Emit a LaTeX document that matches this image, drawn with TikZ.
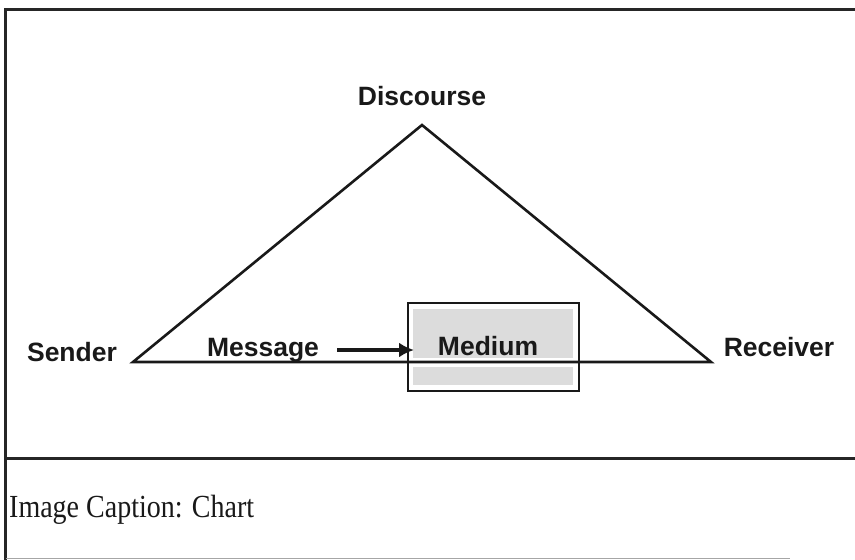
\documentclass[tikz,border=0pt]{standalone}
\usepackage{fontspec}
\setmainfont{Liberation Serif}
\newfontfamily\labelfont{Liberation Sans}
\usetikzlibrary{arrows.meta}
\definecolor{medgray}{HTML}{DCDCDC}
\tikzset{
  lbl/.style={font=\labelfont\bfseries\fontsize{26.5}{30}\selectfont, inner sep=0pt, text=black!90},
  edge/.style={line width=2.6pt, line join=miter, draw=black!90},
  frame/.style={line width=3pt, draw=black!85},
}
\begin{document}
\begin{tikzpicture}[x=1pt,y=-1pt]
\useasboundingbox (0,0) rectangle (855,560);
% frame
\draw[frame] (857,9.5) -- (5.5,9.5) -- (5.5,562);
\draw[frame] (5.5,458) -- (857,458);
\draw[line width=1pt, draw=black!35] (5.5,558) -- (790,558);
% medium box
\node[draw=black!90, line width=2.4pt, fill=white, minimum width=171pt, minimum height=88pt, inner sep=0pt, anchor=north west] (box) at (407,302) {};
\fill[medgray] (413,309) rectangle (573,358);
\fill[medgray] (413,367) rectangle (573,385);
% triangle
\coordinate (apex) at (422,125);
\coordinate (left) at (133,362);
\coordinate (right) at (711,362);
\draw[edge] (left) -- (apex) -- (right) -- cycle;
% labels
\node[lbl] (disc) at (422,96) {Discourse};
\node[lbl] (send) at (72,352) {Sender};
\node[lbl] (msg) at (263,350) {Message};
\node[lbl] (med) at (488,346) {Medium};
\node[lbl] (recv) at (779,347) {Receiver};
% arrow
\coordinate (arrstart) at (337,350);
\coordinate (arrend) at (414,350);
\draw[line width=3.5pt, draw=black!90, -{Latex[length=15pt,width=15pt]}] (arrstart) -- (arrend);
% caption
\node[font=\fontsize{28}{32}\selectfont, anchor=west, inner sep=0pt, text=black!90, yscale=1.15] (cap) at (9,510) {Image Caption: Chart};
\end{tikzpicture}
\end{document}
